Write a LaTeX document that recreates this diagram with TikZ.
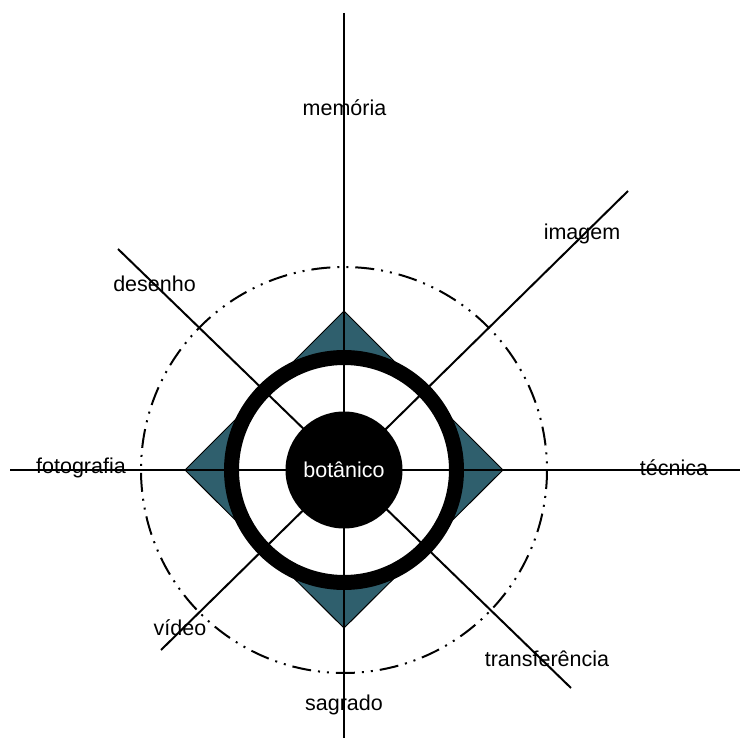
\documentclass[tikz,border=0pt]{standalone}
\usepackage{fontspec}
\setmainfont{Liberation Sans}
\begin{document}
\begin{tikzpicture}[x=1pt,y=-1pt,
  axis/.style={line width=2pt},
  lbl/.style={inner sep=0pt,font=\fontsize{21.5}{24}\selectfont},
  dashdot/.style={line width=2pt,dash pattern=on 19pt off 7pt on 2pt off 7pt on 2pt off 7pt},
  diam/.style={fill=teal0,draw=black,line width=1pt},
  ring/.style={line width=15pt},
]
\definecolor{teal0}{HTML}{2F5F6D}
\useasboundingbox (0,0) rectangle (740,738);
\fill[white] (0,0) rectangle (740,738);
\coordinate (c) at (344,470);
% diamond
\coordinate (dt) at (344,311);
\coordinate (dl) at (185,470);
\coordinate (dr) at (503,470);
\coordinate (db) at (344,628);
\draw[diam] (dt) -- (dr) -- (db) -- (dl) -- cycle;
% white inside of the ring
\fill[white] (c) circle[radius=112.5];
% dash-dot circle
\draw[dashdot] (c) circle[radius=203];
% axes
\coordinate (N) at (344,13);
\coordinate (S) at (344,738);
\coordinate (W) at (10,470);
\coordinate (E) at (740,470);
\coordinate (NE) at (628,191);
\coordinate (SW) at (161,650);
\coordinate (NW) at (118,249);
\coordinate (SE) at (571,688);
\draw[axis] (N) -- (S);
\draw[axis] (W) -- (E);
\draw[axis] (NE) -- (SW);
\draw[axis] (NW) -- (SE);
% ring
\draw[ring] (c) circle[radius=112.5];
% centre
\node[circle,fill=black,minimum size=117pt,inner sep=0pt,text=white,font=\fontsize{21.5}{24}\selectfont] (bot) at (c) {botânico};
% labels
\node[lbl] (mem) at (344.5,108) {memória};
\node[lbl] (img) at (582,234) {imagem};
\node[lbl] (des) at (154.5,284) {desenho};
\node[lbl] (fot) at (81,468) {fotografia};
\node[lbl] (tec) at (674,468) {técnica};
\node[lbl] (tra) at (547,659) {transferência};
\node[lbl] (vid) at (180,628) {vídeo};
\node[lbl] (sag) at (344,705) {sagrado};
\end{tikzpicture}
\end{document}
